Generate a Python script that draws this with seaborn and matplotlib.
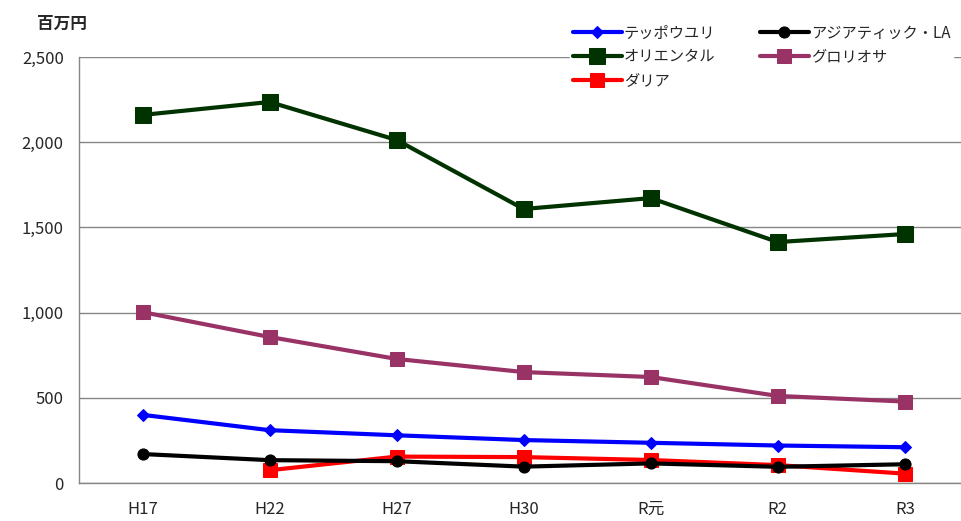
import matplotlib
matplotlib.use('Agg')
import matplotlib.pyplot as plt
import seaborn as sns
import numpy as np
import pandas as pd

# data (百万円)
years = ['H17', 'H22', 'H27', 'H30', 'R元', 'R2', 'R3']
teppo = [400, 310, 280, 252, 236, 220, 210]
asiatic = [170, 134, 128, 96, 115, 95, 110]
oriental = [2160, 2236, 2013, 1608, 1672, 1414, 1461]
gloriosa = [1003, 857, 728, 651, 622, 511, 478]
dahlia = [np.nan, 75, 155, 152, 135, 105, 55]

series_names = ['テッポウユリ', 'オリエンタル', 'ダリア', 'アジアティック・LA', 'グロリオサ']
series_vals = [teppo, oriental, dahlia, asiatic, gloriosa]
colors = ['#0000FF', '#003300', '#FF0000', '#000000', '#993366']
markers = ['D', 's', 's', 'o', 's']
msizes = [6, 12, 10, 8, 10]


def main():
    sns.set_style('white')
    plt.rcParams['font.family'] = ['Noto Sans CJK JP', 'DejaVu Sans']

    fig = plt.figure(figsize=(9.62, 5.21), dpi=100)
    ax = fig.add_axes([79 / 962, 38 / 521, 1 - 79 / 962, (483 - 57) / 521])

    pos = np.arange(len(years))
    for name, vals, c, m, ms in zip(series_names, series_vals, colors, markers, msizes):
        df = pd.DataFrame({'x': pos, 'y': vals}).dropna()
        sns.lineplot(data=df, x='x', y='y', ax=ax, color=c, marker=m,
                     markersize=ms, linewidth=3, markeredgecolor=c,
                     label=name, zorder=3)

    ax.set_xlim(-0.5, 6.45)
    ax.set_ylim(0, 2500)
    ax.set_yticks(range(0, 2501, 500))
    ax.set_yticklabels([f'{v:,}' for v in range(0, 2501, 500)], fontsize=12)
    ax.set_xticks(pos)
    ax.set_xticklabels(years, fontsize=12)
    ax.set_xticks(np.arange(0.5, 6, 1), minor=True)
    ax.tick_params(axis='x', which='major', length=0, pad=13)
    ax.tick_params(axis='x', which='minor', length=6, color='#868686', direction='out')
    ax.tick_params(axis='y', length=6, color='#868686', direction='out', pad=5)
    ax.set_xlabel('')
    ax.set_ylabel('')

    ax.grid(axis='y', color='#868686', linewidth=1)
    ax.set_axisbelow(True)
    for side in ['top', 'right']:
        ax.spines[side].set_visible(False)
    for side in ['left', 'bottom']:
        ax.spines[side].set_color('#868686')
        ax.spines[side].set_linewidth(1)

    fig.text(62 / 962, 1 - 24 / 521, '百万円', fontsize=12, fontweight='bold',
             ha='center', va='center')

    ax.get_legend().remove()
    handles, labels = ax.get_legend_handles_labels()
    fig.legend(handles, labels, ncol=2, loc='upper left',
               bbox_to_anchor=(562 / 962, 1 - 14 / 521), frameon=True,
               facecolor='white', edgecolor='white', framealpha=1,
               fontsize=11, handlelength=3.2, handletextpad=0.15,
               columnspacing=2.9, labelspacing=0.45, borderpad=0.2)

    fig.savefig('out.png', dpi=100)


main()
